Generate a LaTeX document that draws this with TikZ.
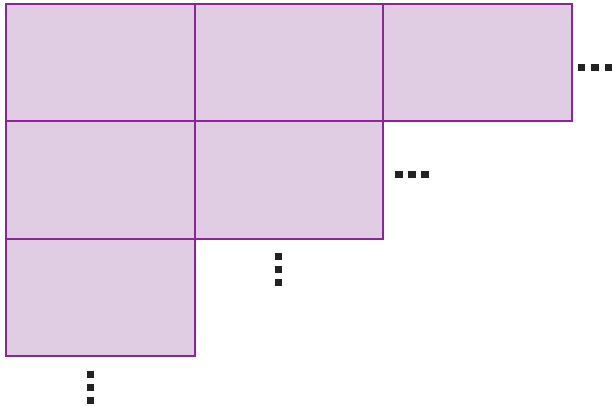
\documentclass[tikz,border=0pt]{standalone}
\usetikzlibrary{positioning}
\definecolor{lila}{RGB}{224,205,227}
\definecolor{moradoborde}{RGB}{142,36,155}
\definecolor{punto}{RGB}{34,34,34}

\begin{document}
\begin{tikzpicture}[
  x=1pt, y=-1pt,
  cell/.style={rectangle, draw=moradoborde, fill=lila, line width=2.2pt,
               minimum width=188.5pt, minimum height=117.5pt,
               inner sep=0pt, outer sep=0pt},
  dotsq/.style={rectangle, fill=punto, minimum size=7.6pt,
                inner sep=0pt, outer sep=0pt}
]
\useasboundingbox (0,0) rectangle (612,406);

% Celdas
\node[cell] (c11) at (100.5,62.5) {};
\node[cell, right=0pt of c11] (c12) {};
\node[cell, right=0pt of c12] (c13) {};
\node[cell, below=0pt of c11] (c21) {};
\node[cell, right=0pt of c21] (c22) {};
\node[cell, below=0pt of c21] (c31) {};

% Puntos suspensivos
\foreach \i in {0,1,2} {
  \node[dotsq] (pa\i) at (581.5+13.5*\i, 67.5) {};
  \node[dotsq] (pb\i) at (399+13*\i, 174.5) {};
  \node[dotsq] (pc\i) at (278.5, 256.5+13*\i) {};
  \node[dotsq] (pd\i) at (90.5, 374.5+13*\i) {};
}
\end{tikzpicture}
\end{document}
